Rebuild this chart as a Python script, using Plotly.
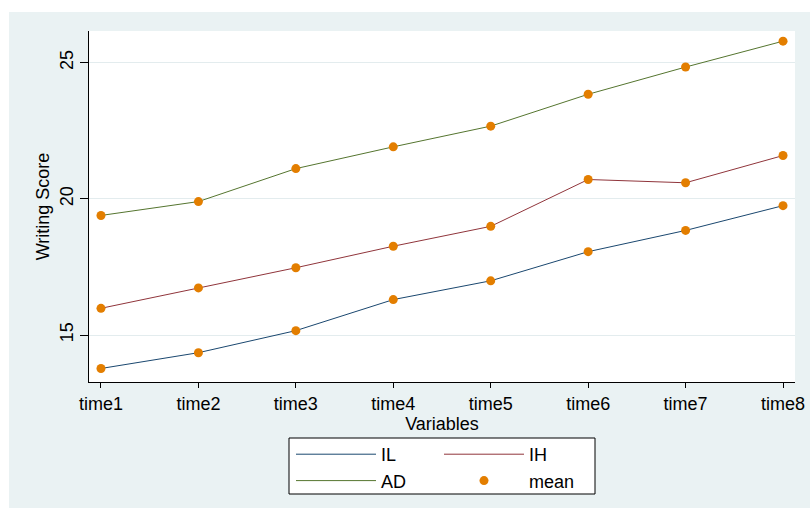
import plotly.graph_objects as go

# Writing score means by time point and group
times = ["time1", "time2", "time3", "time4", "time5", "time6", "time7", "time8"]
il_scores = [13.77, 14.35, 15.16, 16.30, 16.99, 18.06, 18.84, 19.75]
ih_scores = [15.98, 16.73, 17.47, 18.26, 18.99, 20.71, 20.59, 21.59]
ad_scores = [19.39, 19.90, 21.11, 21.91, 22.67, 23.84, 24.84, 25.79]
y_ticks = [15, 20, 25]

FONT = "Liberation Sans, Arial, sans-serif"
FS = 18
NAVY = "#1A476F"
MAROON = "#90353B"
GREEN = "#55752F"
ORANGE = "#E37E00"
BG = "#EAF2F3"

W, H = 810, 508
L, R, T, B = 89, 15, 31, 126
PW, PH = W - L - R, H - T - B


def px_x(p):
    return (p - L) / PW


def px_y(p):
    return (H - B - p) / PH


fig = go.Figure()

fig.add_trace(go.Scatter(x=times, y=il_scores, mode="lines", name="IL",
                         line=dict(color=NAVY, width=1), legend="legend"))
fig.add_trace(go.Scatter(x=times, y=ad_scores, mode="lines", name="AD",
                         line=dict(color=GREEN, width=1), legend="legend"))
fig.add_trace(go.Scatter(x=times, y=ih_scores, mode="lines", name="IH",
                         line=dict(color=MAROON, width=1), legend="legend2"))
fig.add_trace(go.Scatter(x=times * 3, y=il_scores + ih_scores + ad_scores,
                         mode="markers", name="mean",
                         marker=dict(color=ORANGE, size=9), legend="legend2"))

shapes = [
    # outer graph region
    dict(type="rect", xref="paper", yref="paper", layer="below",
         x0=px_x(9), x1=px_x(W), y0=px_y(H), y1=px_y(12),
         fillcolor=BG, line=dict(width=0)),
    # white plot region
    dict(type="rect", xref="paper", yref="paper", layer="below",
         x0=0, x1=1, y0=0, y1=1, fillcolor="white", line=dict(width=0)),
    # legend frame
    dict(type="rect", xref="paper", yref="paper", layer="below",
         x0=px_x(289), x1=px_x(595), y0=px_y(494), y1=px_y(438),
         fillcolor="white", line=dict(color="black", width=1)),
]

legend_common = dict(orientation="v", xanchor="left", yanchor="top",
                     bgcolor="rgba(0,0,0,0)", borderwidth=0, itemwidth=80,
                     font=dict(family=FONT, size=FS, color="black"),
                     tracegroupgap=0)

fig.update_layout(
    width=W, height=H,
    margin=dict(l=L, r=R, t=T, b=B, pad=0, autoexpand=False),
    paper_bgcolor="white",
    plot_bgcolor="rgba(0,0,0,0)",
    font=dict(family=FONT, size=FS, color="black"),
    shapes=shapes,
    legend=dict(x=px_x(291), y=px_y(436), **legend_common),
    legend2=dict(x=px_x(439), y=px_y(436), **legend_common),
    xaxis=dict(
        type="category", range=[-0.123, 7.123],
        tickvals=times, ticktext=times,
        showline=True, linecolor="black", linewidth=1,
        ticks="outside", ticklen=5, tickcolor="black",
        showgrid=False, zeroline=False,
        tickfont=dict(family=FONT, size=FS),
        title=dict(text="Variables", standoff=0,
                   font=dict(family=FONT, size=FS)),
    ),
    yaxis=dict(
        range=[13.274, 26.164], tickvals=y_ticks,
        ticktext=[str(v) for v in y_ticks], tickangle=-90,
        showline=True, linecolor="black", linewidth=1,
        ticks="outside", ticklen=8, tickcolor="black",
        showgrid=True, gridcolor="#E3ECEE", gridwidth=1, zeroline=False,
        tickfont=dict(family=FONT, size=FS),
        title=dict(text="Writing Score", standoff=2,
                   font=dict(family=FONT, size=FS)),
    ),
)

fig.write_html("out.html")
